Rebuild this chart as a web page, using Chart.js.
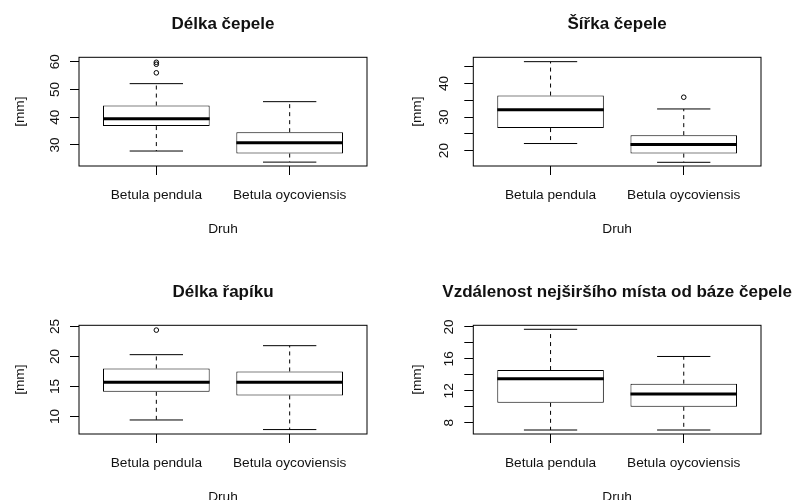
<!DOCTYPE html>
<html>
<head>
<meta charset="utf-8">
<script src="https://cdn.jsdelivr.net/npm/chart.js@4.4.1/dist/chart.umd.min.js"></script>
<style>
  html, body { margin: 0; padding: 0; background: #fff; }
  #wrap { position: relative; width: 794px; height: 500px; overflow: hidden; }
  canvas { position: absolute; }
</style>
</head>
<body>
<div id="wrap">
  <canvas id="c1" width="397" height="250" style="left:0;top:0"></canvas>
  <canvas id="c2" width="397" height="250" style="left:397px;top:0"></canvas>
  <canvas id="c3" width="397" height="250" style="left:0;top:250px"></canvas>
  <canvas id="c4" width="397" height="250" style="left:397px;top:250px"></canvas>
</div>
<script>
const species = ['Betula pendula', 'Betula oycoviensis'];
const xTitle = 'Druh';
const yTitle = '[mm]';

// [lower whisker, Q1, median, Q3, upper whisker] per species
const bladeLength = [[27.8, 36.8, 39.4, 44.2, 52.1], [23.8, 26.9, 30.8, 34.6, 45.6]];
const bladeLengthOutliers = [[59.8, 59.1, 56.0], []];
const bladeLengthRange = [22.4, 61.6];
const bladeLengthTicks = [30, 40, 50, 60];
const bladeLengthTickLabels = ['30', '40', '50', '60'];

const bladeWidth = [[22.1, 26.7, 32.2, 36.4, 46.5], [16.5, 19.1, 21.8, 24.6, 32.4]];
const bladeWidthOutliers = [[], [35.9]];
const bladeWidthRange = [15.4, 47.8];
const bladeWidthTicks = [20, 25, 30, 35, 40, 45];
const bladeWidthTickLabels = ['20', '', '30', '', '40', ''];

const petiole = [[9.4, 14.1, 15.7, 18.0, 20.3], [7.8, 13.5, 15.7, 17.5, 21.8]];
const petioleOutliers = [[24.4], []];
const petioleRange = [7.06, 25.2];
const petioleTicks = [10, 15, 20, 25];
const petioleTickLabels = ['10', '15', '20', '25'];

const widestPoint = [[7.1, 10.5, 13.5, 14.6, 19.7], [7.1, 10.0, 11.6, 12.9, 16.3]];
const widestPointOutliers = [[], []];
const widestPointRange = [6.6, 20.2];
const widestPointTicks = [8, 10, 12, 14, 16, 18, 20];
const widestPointTickLabels = ['8', '', '12', '', '16', '', '20'];

const FONT = "'Liberation Sans', Arial, sans-serif";
const INK = '#111';

function makePanel(id, title, stats, outliers, range, ticks, tickLabels, box) {
  const W = 397, H = 250;

  // whiskers, staples, medians, frame and the texts, all placed with the chart's scales
  const boxParts = {
    id: 'boxParts',
    afterDatasetsDraw(chart) {
      const ctx = chart.ctx;
      const y = chart.scales.y;
      const bars = chart.getDatasetMeta(0).data;
      const line = (x1, y1, x2, y2) => { ctx.beginPath(); ctx.moveTo(x1, y1); ctx.lineTo(x2, y2); ctx.stroke(); };
      ctx.save();
      ctx.strokeStyle = '#000';
      stats.forEach((s, i) => {
        const cx = bars[i].x, hw = bars[i].width / 2;
        const [lo, q1, med, q3, hi] = s.map(v => y.getPixelForValue(v));
        ctx.lineWidth = 1;
        ctx.setLineDash([4, 4]);
        line(cx, q3, cx, hi);
        line(cx, q1, cx, lo);
        ctx.setLineDash([]);
        line(cx - hw / 2, hi, cx + hw / 2, hi);
        line(cx - hw / 2, lo, cx + hw / 2, lo);
        ctx.lineWidth = 3;
        line(cx - hw, med, cx + hw, med);
      });
      ctx.restore();
    },
    afterDraw(chart) {
      const ctx = chart.ctx;
      const ca = chart.chartArea;
      const x = chart.scales.x, y = chart.scales.y;
      const midX = (ca.left + ca.right) / 2, midY = (ca.top + ca.bottom) / 2;
      ctx.save();
      ctx.strokeStyle = '#000';
      ctx.lineWidth = 1;
      ctx.strokeRect(ca.left, ca.top, ca.right - ca.left, ca.bottom - ca.top);

      ctx.fillStyle = INK;
      ctx.textAlign = 'center';
      ctx.textBaseline = 'alphabetic';
      ctx.font = 'bold 17px ' + FONT;
      ctx.fillText(title, midX, ca.top - 28.3);

      ctx.font = '13.7px ' + FONT;
      species.forEach((name, i) => ctx.fillText(name, x.getPixelForValue(i + 1), ca.bottom + 33));
      ctx.fillText(xTitle, midX, ca.bottom + 67.3);

      ticks.forEach((v, i) => {
        if (!tickLabels[i]) return;
        ctx.save();
        ctx.translate(ca.left - box.yGap, y.getPixelForValue(v));
        ctx.rotate(-Math.PI / 2);
        ctx.fillText(tickLabels[i], 0, 0);
        ctx.restore();
      });
      ctx.translate(23.5, midY);
      ctx.rotate(-Math.PI / 2);
      ctx.fillText(yTitle, 0, 0);
      ctx.restore();
    }
  };

  const points = [];
  outliers.forEach((list, i) => list.forEach(v => points.push({ x: i + 1, y: v })));

  return new Chart(document.getElementById(id), {
    type: 'bar',
    data: {
      datasets: [
        {
          type: 'bar',
          data: stats.map((s, i) => ({ x: i + 1, y: [s[1], s[3]] })),
          backgroundColor: '#fff',
          borderColor: '#000',
          borderWidth: 1,
          borderSkipped: false,
          barPercentage: 0.8,
          categoryPercentage: 1
        },
        {
          type: 'scatter',
          data: points,
          pointRadius: 2.3,
          pointBorderWidth: 1,
          pointBorderColor: '#000',
          pointBackgroundColor: 'rgba(0,0,0,0)'
        }
      ]
    },
    options: {
      responsive: false,
      animation: false,
      devicePixelRatio: 1,
      layout: { padding: { left: 0, top: box.top, right: W - box.right, bottom: 0 } },
      plugins: { legend: { display: false }, tooltip: { enabled: false }, title: { display: false } },
      scales: {
        x: {
          type: 'linear',
          min: 0.42,
          max: 2.58,
          offset: false,
          afterBuildTicks: s => { s.ticks = species.map((n, i) => ({ value: i + 1 })); },
          afterFit: s => { s.height = H - box.bottom; },
          ticks: { display: false },
          grid: { offset: false, drawOnChartArea: false, drawTicks: true, tickLength: 9, color: '#000', lineWidth: 1 },
          border: { display: false }
        },
        y: {
          type: 'linear',
          min: range[0],
          max: range[1],
          afterBuildTicks: s => { s.ticks = ticks.map(v => ({ value: v })); },
          afterFit: s => { s.width = box.left; },
          ticks: { display: false },
          grid: { drawOnChartArea: false, drawTicks: true, tickLength: 9, color: '#000', lineWidth: 1 },
          border: { display: false }
        }
      }
    },
    plugins: [boxParts]
  });
}

makePanel('c1', 'Délka čepele', bladeLength, bladeLengthOutliers, bladeLengthRange,
  bladeLengthTicks, bladeLengthTickLabels, { left: 79, right: 367, top: 57.3, bottom: 166, yGap: 20 });
makePanel('c2', 'Šířka čepele', bladeWidth, bladeWidthOutliers, bladeWidthRange,
  bladeWidthTicks, bladeWidthTickLabels, { left: 76.3, right: 364, top: 57.3, bottom: 166, yGap: 25.5 });
makePanel('c3', 'Délka řapíku', petiole, petioleOutliers, petioleRange,
  petioleTicks, petioleTickLabels, { left: 79, right: 367, top: 75.3, bottom: 184, yGap: 20 });
makePanel('c4', 'Vzdálenost nejširšího místa od báze čepele', widestPoint, widestPointOutliers, widestPointRange,
  widestPointTicks, widestPointTickLabels, { left: 76.3, right: 364, top: 75.3, bottom: 184, yGap: 20 });
</script>
</body>
</html>
